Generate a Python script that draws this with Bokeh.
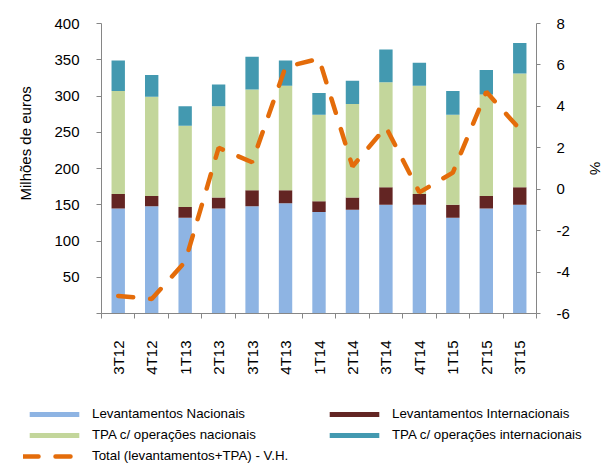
import math
from bokeh.plotting import figure
from bokeh.layouts import column
from bokeh.models import (Range1d, LinearAxis, FixedTicker, Legend, LegendItem,
                          Title, ColumnDataSource)
from bokeh.embed import file_html
from bokeh.resources import INLINE

quarters = ["3T12", "4T12", "1T13", "2T13", "3T13", "4T13", "1T14",
            "2T14", "3T14", "4T14", "1T15", "2T15", "3T15"]
lev_nac = [145, 148, 132, 145, 148, 152, 140, 143, 150, 150, 132, 145, 150]
lev_int = [20, 14, 15, 15, 22, 18, 15, 17, 24, 15, 18, 17, 24]
tpa_nac = [142, 137, 112, 126, 139, 144, 119, 129, 145, 149, 124, 140, 157]
tpa_int = [42, 30, 27, 30, 45, 35, 30, 32, 45, 32, 33, 34, 42]
var_hom = [-5.15, -5.3, -3.5, 2.0, 1.3, 5.9, 6.3, 1.1, 3.0, -0.15, 0.8, 4.7, 2.9]
left_ticks = [0, 50, 100, 150, 200, 250, 300, 350, 400]
right_ticks = [-6, -4, -2, 0, 2, 4, 6, 8]
right_tick_labels = ["-6", "-4", "-2", "0", "2", "4", "6", "8"]
series_names = ["Levantamentos Nacionais", "Levantamentos Internacionais",
                "TPA c/ operações nacionais", "TPA c/ operações internacionais"]
line_name = "Total (levantamentos+TPA) - V.H."

colors = ["#8EB4E3", "#632523", "#C3D69B", "#4399B0"]
orange = "#E46C0A"
gray = "#868686"
font = "Liberation Sans"
dash = "15 17"

n = len(quarters)
xpos = [i + 0.5 for i in range(n)]
source = ColumnDataSource(dict(x=xpos, ln=lev_nac, li=lev_int, tn=tpa_nac,
                               ti=tpa_int, vh=var_hom))

p = figure(width=606, height=400, x_range=Range1d(0, n),
           y_range=Range1d(left_ticks[0], left_ticks[-1]),
           output_backend="svg", toolbar_location=None,
           min_border_left=98, min_border_right=64, min_border_top=23,
           min_border_bottom=87)
p.extra_y_ranges = {"pct": Range1d(right_ticks[0], right_ticks[-1])}
p.outline_line_color = None
p.xgrid.visible = False
p.ygrid.visible = False

cols = ["ln", "li", "tn", "ti"]
bars = p.vbar_stack(cols, x="x", width=0.4, source=source,
                    color=colors, line_color=None)
line = p.line("x", "vh", source=source, y_range_name="pct", line_color=orange,
              line_width=4.5, line_dash=dash, line_cap="round")

xa = p.xaxis[0]
xa.ticker = FixedTicker(ticks=xpos, minor_ticks=list(range(n + 1)))
xa.major_label_overrides = {x: q for x, q in zip(xpos, quarters)}
xa.major_tick_out = 0
xa.major_tick_in = 0
xa.minor_tick_out = 5
xa.minor_tick_in = 0
xa.major_label_orientation = math.pi / 2
xa.major_label_standoff = 22
xa.axis_line_color = gray
xa.minor_tick_line_color = gray
xa.major_label_text_font = font
xa.major_label_text_font_size = "15px"
xa.major_label_text_color = "black"

ya = p.yaxis[0]
ya.ticker = FixedTicker(ticks=left_ticks)
ya.major_label_overrides = {0: ""}
ya.major_tick_out = 5
ya.major_tick_in = 0
ya.minor_tick_line_color = None
ya.axis_line_color = gray
ya.major_tick_line_color = gray
ya.major_label_standoff = 17
ya.major_label_text_font = font
ya.major_label_text_font_size = "15px"
ya.major_label_text_color = "black"

ra = LinearAxis(y_range_name="pct", ticker=FixedTicker(ticks=right_ticks),
                axis_label="%")
ra.major_label_overrides = dict(zip(right_ticks, right_tick_labels))
ra.major_tick_out = 4
ra.major_tick_in = 0
ra.minor_tick_line_color = None
ra.axis_line_color = gray
ra.major_tick_line_color = gray
ra.major_label_standoff = 16
ra.major_label_text_font = font
ra.major_label_text_font_size = "15px"
ra.major_label_text_color = "black"
ra.axis_label_text_font = font
ra.axis_label_text_font_size = "15px"
ra.axis_label_text_font_style = "normal"
ra.axis_label_text_color = "black"
ra.axis_label_standoff = 14
p.add_layout(ra, "right")

ytitle = Title(text="Milhões de euros", align="left", offset=113,
               vertical_align="top", standoff=32, text_font=font,
               text_font_size="15px", text_font_style="normal",
               text_color="black", text_line_height=1.0)
p.add_layout(ytitle, "left")

# legend panel (separate figure below the chart); its glyphs use the same
# data, lying outside this panel's visible ranges so only the legend shows
q = figure(width=606, height=64, x_range=Range1d(-3, -2),
           y_range=Range1d(-20, -19), output_backend="svg",
           toolbar_location=None, x_axis_type=None, y_axis_type=None,
           min_border_left=0, min_border_right=0, min_border_top=0,
           min_border_bottom=0)
try:
    q.frame_align = False
    p.frame_align = False
except Exception:
    pass
q.outline_line_color = None
q.xgrid.visible = False
q.ygrid.visible = False
swatches = [q.vbar(x="x", top=c, width=0.4, source=source, color=col,
                   line_color=None) for c, col in zip(cols, colors)]
lsw = q.line(x="x", y="vh", source=source, line_color=orange, line_width=4.5,
             line_dash=dash, line_cap="round")

# column-major fill: col 1 = LN, TN, Total ; col 2 = LI, TI
items = [LegendItem(label=series_names[0], renderers=[swatches[0]]),
         LegendItem(label=series_names[2], renderers=[swatches[2]]),
         LegendItem(label=line_name, renderers=[lsw]),
         LegendItem(label=series_names[1], renderers=[swatches[1]]),
         LegendItem(label=series_names[3], renderers=[swatches[3]])]
legend = Legend(items=items, ncols=2, location=(23, -2),
                glyph_width=62, glyph_height=6, label_standoff=7,
                label_width=231, label_height=21, spacing=0, padding=0,
                margin=0, border_line_color=None, background_fill_alpha=0,
                label_text_font=font, label_text_font_size="13.3px",
                label_text_color="black")
q.add_layout(legend, "center")

layout = column(p, q, spacing=0)
open("out.html", "w").write(file_html(layout, INLINE))
